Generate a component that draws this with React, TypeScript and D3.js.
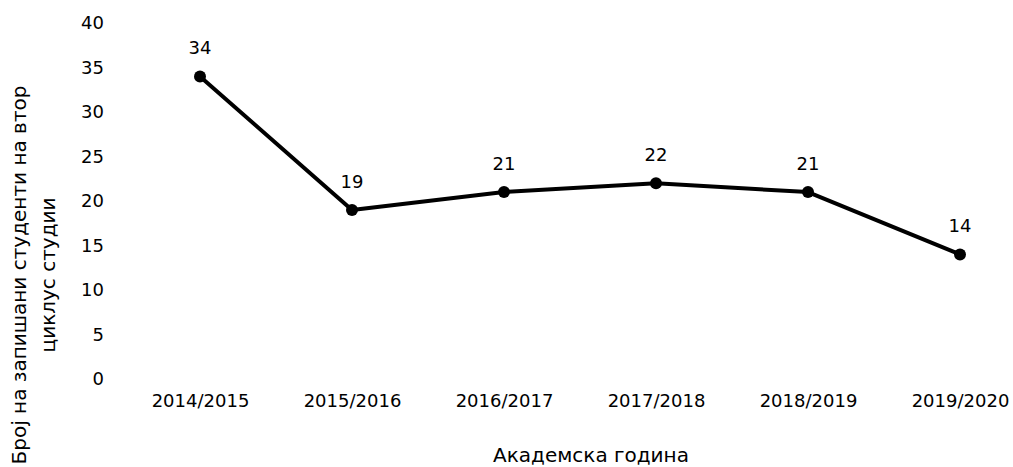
import React, { useRef, useEffect } from "react";
import * as d3 from "d3";

const years = ["2014/2015", "2015/2016", "2016/2017", "2017/2018", "2018/2019", "2019/2020"];
const students = [34, 19, 21, 22, 21, 14];
const yTicks = [0, 5, 10, 15, 20, 25, 30, 35, 40];

const W = 1013;
const H = 467;
const FONT = "'DejaVu Sans', sans-serif";

const App = () => {
  const svgRef = useRef<SVGSVGElement>(null);

  useEffect(() => {
    const svg = d3.select(svgRef.current);
    svg.selectAll("*").remove();

    const x = d3.scalePoint().domain(years).range([200, 960]);
    const y = d3.scaleLinear().domain([0, 40]).range([379, 23]);

    // y axis: labels only
    const yAxis = svg
      .append("g")
      .attr("transform", "translate(104,0)")
      .call(d3.axisLeft(y).tickValues(yTicks).tickSize(0).tickPadding(0));
    yAxis.select(".domain").remove();
    yAxis.selectAll("text").attr("font-family", FONT).attr("font-size", 18).attr("fill", "#000");

    // x axis: labels only
    const xAxis = svg
      .append("g")
      .attr("transform", "translate(0,394)")
      .call(d3.axisBottom(x).tickSize(0).tickPadding(0));
    xAxis.select(".domain").remove();
    xAxis.selectAll("text").attr("font-family", FONT).attr("font-size", 18).attr("fill", "#000");

    const line = d3
      .line<number>()
      .x((d, i) => x(years[i]) as number)
      .y((d) => y(d));

    svg
      .append("path")
      .datum(students)
      .attr("d", line)
      .attr("fill", "none")
      .attr("stroke", "#000")
      .attr("stroke-width", 4)
      .attr("stroke-linejoin", "round");

    svg
      .selectAll("circle")
      .data(students)
      .join("circle")
      .attr("cx", (d, i) => x(years[i]) as number)
      .attr("cy", (d) => y(d))
      .attr("r", 6)
      .attr("fill", "#000");

    svg
      .selectAll("text.lbl")
      .data(students)
      .join("text")
      .attr("class", "lbl")
      .attr("x", (d, i) => x(years[i]) as number)
      .attr("y", (d) => y(d) - 22)
      .attr("text-anchor", "middle")
      .attr("font-family", FONT)
      .attr("font-size", 18)
      .attr("fill", "#000")
      .text((d) => d);

    svg
      .append("text")
      .attr("x", 591)
      .attr("y", 462)
      .attr("text-anchor", "middle")
      .attr("font-family", FONT)
      .attr("font-size", 20)
      .attr("fill", "#000")
      .text("Академска година");

    const yTitle = svg
      .append("text")
      .attr("transform", "translate(0,275) rotate(-90)")
      .attr("text-anchor", "middle")
      .attr("font-family", FONT)
      .attr("font-size", 20)
      .attr("fill", "#000");
    yTitle.append("tspan").attr("x", 0).attr("y", 26).text("Број на запишани студенти на втор");
    yTitle.append("tspan").attr("x", 0).attr("y", 55).text("циклус студии");
  }, []);

  return (
    <svg
      ref={svgRef}
      width={W}
      height={H}
      style={{ position: "absolute", left: 0, top: 0, background: "#fff" }}
    ></svg>
  );
};

export default App;
